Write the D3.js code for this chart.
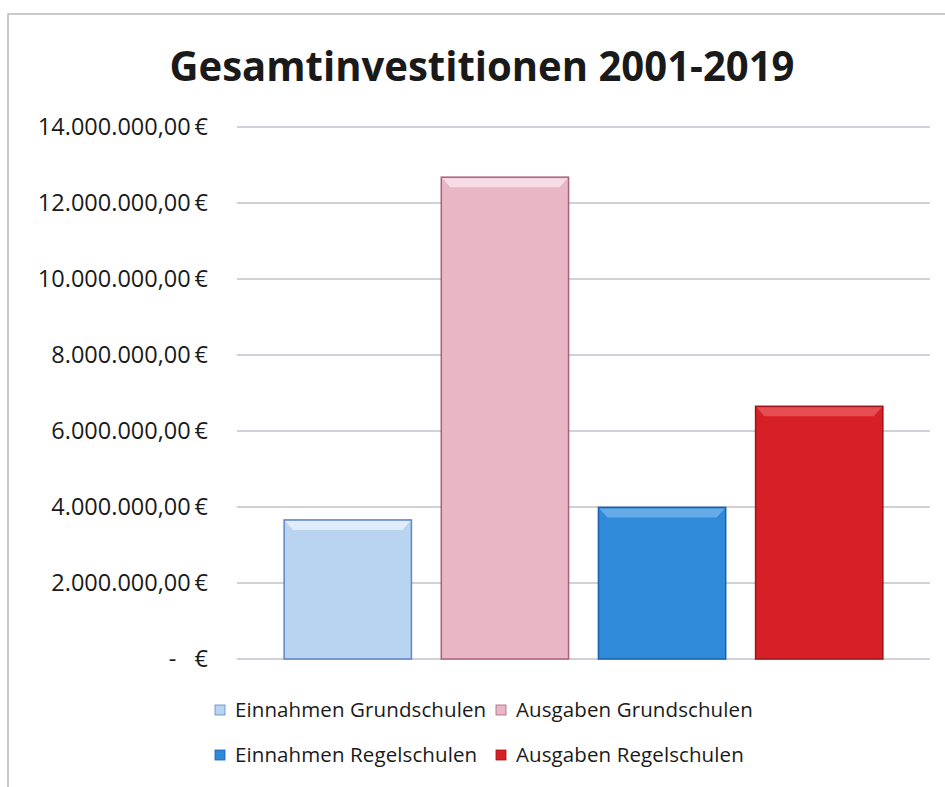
<!DOCTYPE html>
<html>
<head>
<meta charset="utf-8">
<script src="https://cdn.jsdelivr.net/npm/d3@7"></script>
<style>
    body { margin: 0; background: #fff; }
    text { font-family: "Open Sans", "Liberation Sans", sans-serif; fill: #1a1a1a; }
</style>
</head>
<body>
<div id="canvas"></div>
<script>
// DATA
const series = ["Einnahmen Grundschulen", "Ausgaben Grundschulen", "Einnahmen Regelschulen", "Ausgaben Regelschulen"];
const values = [3660000, 12680000, 3990000, 6650000];
const fills = ["#b9d4f1", "#e9b6c5", "#2f8bd9", "#d71f26"];
const edges = ["#5f86c4", "#a8627e", "#1b5fae", "#9c1418"];
const bevels = ["#e6f0fb", "#f8e3ea", "#6fb0ea", "#e8575c"];
const yTicks = [0, 2000000, 4000000, 6000000, 8000000, 10000000, 12000000, 14000000];

// DIMENSIONS
const width = 945;
const height = 787;
const plot = { left: 237, right: 930, top: 127, bottom: 659 };

const canvas = d3.select("#canvas")
    .append("svg")
    .attr("width", width)
    .attr("height", height);

// FRAME
canvas.append("path")
    .attr("d", `M8,${height} L8,14 L${width},14`)
    .attr("fill", "none")
    .attr("stroke", "#b8b8c0")
    .attr("stroke-width", 1.5);

// TITLE
canvas.append("text")
    .attr("x", 482)
    .attr("y", 81)
    .attr("text-anchor", "middle")
    .style("font-size", "41px")
    .style("font-weight", "bold")
    .attr("textLength", 625)
    .attr("lengthAdjust", "spacingAndGlyphs")
    .text("Gesamtinvestitionen 2001-2019");

// SCALES
const xScale = d3.scaleBand()
    .domain(series)
    .range([plot.left, plot.right])
    .paddingInner(0.19)
    .paddingOuter(0.3);

const yScale = d3.scaleLinear()
    .domain([0, 14000000])
    .range([plot.bottom, plot.top]);

// FORMATTER
const euro = v => v === 0 ? "-   €" :
    d3.format(",.2f")(v).replace(/,/g, "#").replace(".", ",").replace(/#/g, ".") + "\u2009€";

// GRID
canvas.append("g")
    .selectAll("line")
    .data(yTicks)
    .join("line")
    .attr("x1", plot.left)
    .attr("x2", plot.right)
    .attr("y1", d => yScale(d))
    .attr("y2", d => yScale(d))
    .attr("stroke", "#a2a2ae")
    .attr("stroke-width", 1);

// Y AXIS
const yAxis = canvas.append("g")
    .attr("transform", `translate(208, 0)`)
    .call(d3.axisLeft(yScale).tickValues(yTicks).tickFormat(euro).tickSize(0).tickPadding(0));
yAxis.select(".domain").remove();
yAxis.selectAll("text")
    .style("font-size", "23.5px")
    .style("white-space", "pre")
    .attr("fill", "#1a1a1a");

// BARS
const bars = canvas.append("g")
    .selectAll("g")
    .data(values)
    .join("g");

bars.append("rect")
    .attr("x", (d, i) => xScale(series[i]))
    .attr("y", d => yScale(d))
    .attr("width", xScale.bandwidth())
    .attr("height", d => yScale(0) - yScale(d))
    .attr("fill", (d, i) => fills[i])
    .attr("stroke", (d, i) => edges[i])
    .attr("stroke-width", 1.5);

// top bevel highlight
bars.append("polygon")
    .attr("points", (d, i) => {
        const x0 = xScale(series[i]) + 1, x1 = x0 + xScale.bandwidth() - 2;
        const y0 = yScale(d) + 1;
        return `${x0},${y0} ${x1},${y0} ${x1 - 8},${y0 + 9} ${x0 + 8},${y0 + 9}`;
    })
    .attr("fill", (d, i) => bevels[i])
    .attr("opacity", 0.85);

// LEGEND
const rows = [[0, 1], [2, 3]];
const colX = [215, 496];
const legend = canvas.append("g");
rows.forEach((row, r) => {
    const y = 717 + r * 45;   // baseline
    row.forEach((i, c) => {
        const x = colX[c];
        legend.append("rect")
            .attr("x", x)
            .attr("y", y - 12)
            .attr("width", 10)
            .attr("height", 10)
            .attr("fill", fills[i])
            .attr("stroke", edges[i])
            .attr("stroke-width", 0.8);
        legend.append("text")
            .attr("x", x + 20)
            .attr("y", y)
            .style("font-size", "20.5px")
            .style("letter-spacing", "0.1px")
            .text(series[i]);
    });
});
</script>
</body>
</html>
